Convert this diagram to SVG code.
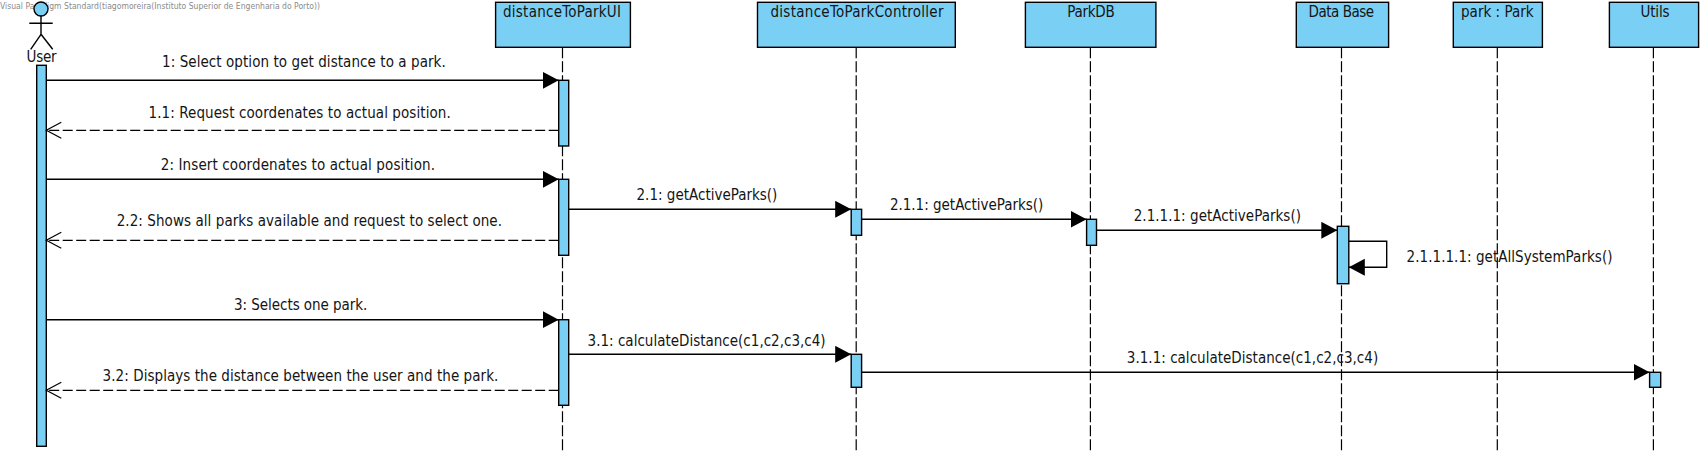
<svg xmlns="http://www.w3.org/2000/svg" width="1705" height="452" viewBox="0 0 1705 452">
<style>
text{font-family:"DejaVu Sans Condensed","DejaVu Sans","Liberation Sans",sans-serif;fill:#141414;font-size:15px}
.n{text-anchor:middle}
.b{fill:#7acff5;stroke:#000;stroke-width:1.4}
.l{stroke:#000;stroke-width:1.2;fill:none;stroke-dasharray:11 3}
.m{stroke:#000;stroke-width:1.4;fill:none}
.r{stroke:#000;stroke-width:1.2;fill:none;stroke-dasharray:10 3.5}
.wm{font-size:8.500px;fill:#8a8a8a}
</style>
<defs>
<marker id="f" markerUnits="userSpaceOnUse" markerWidth="17" markerHeight="18" refX="16" refY="8.500" orient="auto"><path d="M0 0L16 8.500L0 17Z" fill="#000"/></marker>
<marker id="o" markerUnits="userSpaceOnUse" markerWidth="17" markerHeight="19" refX="16" refY="9" orient="auto"><path d="M1 1L16 9L1 17" fill="none" stroke="#000" stroke-width="1.2"/></marker>
</defs>
<rect width="1705" height="452" fill="#fff"/>
<text class="wm" x="0" y="9" textLength="320">Visual Paradigm Standard(tiagomoreira(Instituto Superior de Engenharia do Porto))</text>
<g id="user">
<circle class="b" cx="41" cy="9" r="7"/>
<path class="m" d="M41 16V34.300M29.300 23.300H52.700M41 34.300L30.700 49.300M41 34.300L52.700 49.300"/>
<text class="n" x="41.500" y="62" textLength="30">User</text>
<rect class="b" x="36.700" y="65.300" width="9.600" height="381"/>
</g>
<g id="distanceToParkUI">
<path class="l" d="M562.500 47.300V452"/>
<rect class="b" x="495.600" y="2.300" width="134.800" height="45"/>
<text class="n" x="562" y="17" textLength="118">distanceToParkUI</text>
<rect class="b" x="558.700" y="80.300" width="10" height="65.700"/>
<rect class="b" x="558.700" y="179.300" width="10" height="76"/>
<rect class="b" x="558.700" y="319.700" width="10" height="85.600"/>
</g>
<g id="distanceToParkController">
<path class="l" d="M856.200 47.300V452"/>
<rect class="b" x="757.500" y="2.300" width="197.800" height="45"/>
<text class="n" x="857" y="17" textLength="173">distanceToParkController</text>
<rect class="b" x="851.200" y="209.300" width="10.400" height="26"/>
<rect class="b" x="851.200" y="354.300" width="10.400" height="33"/>
</g>
<g id="parkDB">
<path class="l" d="M1090.400 47.300V452"/>
<rect class="b" x="1025.400" y="2.300" width="130.500" height="45"/>
<text class="n" x="1091" y="17" textLength="47.500">ParkDB</text>
<rect class="b" x="1086.600" y="219.300" width="9.900" height="26"/>
</g>
<g id="dataBase">
<path class="l" d="M1341.500 47.300V452"/>
<rect class="b" x="1296.300" y="2.300" width="92.300" height="45"/>
<text class="n" x="1341.300" y="17" textLength="65.400">Data Base</text>
<rect class="b" x="1337.300" y="226.300" width="11.500" height="57.400"/>
</g>
<g id="park">
<path class="l" d="M1497.300 47.300V452"/>
<rect class="b" x="1453.300" y="2.300" width="89.100" height="45"/>
<text class="n" x="1497.300" y="17" textLength="72.600">park : Park</text>
</g>
<g id="utils">
<path class="l" d="M1653.400 47.300V452"/>
<rect class="b" x="1609.400" y="2.300" width="89.200" height="45"/>
<text class="n" x="1655" y="17" textLength="29">Utils</text>
<rect class="b" x="1649.600" y="372.300" width="11.100" height="15"/>
</g>
<g id="connectors">
<path class="m" marker-end="url(#f)" d="M46.300 80.300H558.700"/>
<path class="r" marker-end="url(#o)" d="M558.700 130.300H46.300"/>
<path class="m" marker-end="url(#f)" d="M46.300 179.300H558.700"/>
<path class="m" marker-end="url(#f)" d="M568.700 209.300H851.200"/>
<path class="m" marker-end="url(#f)" d="M861.600 219.300H1086.600"/>
<path class="m" marker-end="url(#f)" d="M1096.500 230.300H1337.300"/>
<path class="m" marker-end="url(#f)" d="M1348.800 241.300H1386.700V267.300H1348.800"/>
<path class="r" marker-end="url(#o)" d="M558.700 240.300H46.300"/>
<path class="m" marker-end="url(#f)" d="M46.300 319.700H558.700"/>
<path class="m" marker-end="url(#f)" d="M568.700 354.300H851.200"/>
<path class="m" marker-end="url(#f)" d="M861.600 372.300H1649.600"/>
<path class="r" marker-end="url(#o)" d="M558.700 390.300H46.300"/>
</g>
<g id="labels">
<text x="162" y="67.200" textLength="283.800">1: Select option to get distance to a park.</text>
<text x="148.500" y="118.400" textLength="302.300">1.1: Request coordenates to actual position.</text>
<text x="160.700" y="170" textLength="274.300">2: Insert coordenates to actual position.</text>
<text x="116.700" y="226" textLength="385.300">2.2: Shows all parks available and request to select one.</text>
<text x="234" y="310" textLength="133.400">3: Selects one park.</text>
<text x="102.600" y="381" textLength="395.700">3.2: Displays the distance between the user and the park.</text>
<text x="636.500" y="199.700" textLength="140.900">2.1: getActiveParks()</text>
<text x="889.900" y="210" textLength="153.500">2.1.1: getActiveParks()</text>
<text x="1133.700" y="220.700" textLength="167.300">2.1.1.1: getActiveParks()</text>
<text x="1406.600" y="262" textLength="205.900">2.1.1.1.1: getAllSystemParks()</text>
<text x="587.600" y="345.700" textLength="238">3.1: calculateDistance(c1,c2,c3,c4)</text>
<text x="1126.800" y="363" textLength="251.400">3.1.1: calculateDistance(c1,c2,c3,c4)</text>
</g>
</svg>
